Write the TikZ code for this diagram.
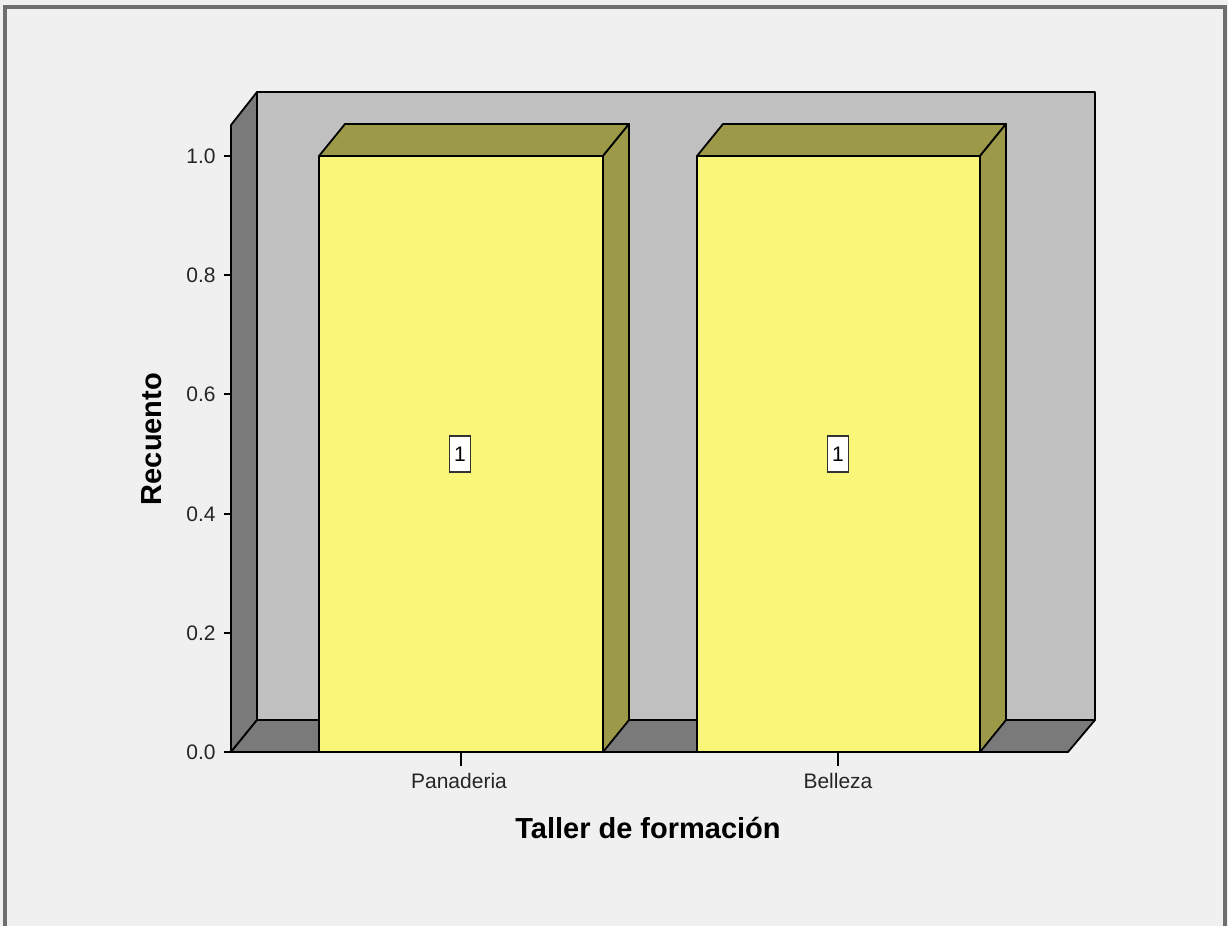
\documentclass[tikz,border=0pt]{standalone}
\usepackage{fontspec}
\setmainfont{Liberation Sans}
\usetikzlibrary{calc}

\definecolor{panelGray}{HTML}{F0F0F0}
\definecolor{wallGray}{HTML}{C0C0C0}
\definecolor{floorGray}{HTML}{7A7A7A}
\definecolor{frameGray}{HTML}{6E6E6E}
\definecolor{barFront}{HTML}{FAF67A}
\definecolor{barSide}{HTML}{9C9A48}

\tikzset{
    edge/.style={draw=black, line width=0.9pt, line join=round},
    ticklbl/.style={font=\fontsize{10.5}{12}\selectfont, inner sep=0pt, text=black!85},
    valbox/.style={fill=white, draw=black!80, line width=0.8pt, font=\fontsize{10.5}{12}\selectfont, inner xsep=2.4pt, inner ysep=0pt, minimum height=18pt},
    axtitle/.style={font=\fontsize{14.5}{16}\selectfont\bfseries, inner sep=0pt}
}

\begin{document}
\begin{tikzpicture}[x=0.5pt, y=-0.5pt]
    \useasboundingbox (0,0) rectangle (1228,926);
    \clip (0,0) rectangle (1228,926);

    \fill[panelGray] (0,0) rectangle (1228,926);
    \draw[frameGray, line width=1.7pt] (5,7) rectangle (1225,960);

    % walls and floor
    \fill[wallGray, edge] (257,92) rectangle (1095,720);
    \fill[floorGray, edge] (231,125) -- (257,92) -- (257,720) -- (231,752) -- cycle;
    \fill[floorGray, edge] (231,752) -- (257,720) -- (1095,720) -- (1068,752) -- cycle;

    % bar Panaderia
    \fill[barSide, edge] (319,156) -- (345,124) -- (629,124) -- (603,156) -- cycle;
    \fill[barSide, edge] (603,156) -- (629,124) -- (629,720) -- (603,752) -- cycle;
    \fill[barFront, edge] (319,156) rectangle (603,752);

    % bar Belleza
    \fill[barSide, edge] (697,156) -- (723,124) -- (1006,124) -- (980,156) -- cycle;
    \fill[barSide, edge] (980,156) -- (1006,124) -- (1006,720) -- (980,752) -- cycle;
    \fill[barFront, edge] (697,156) rectangle (980,752);

    \node[valbox] (v1) at (460,454) {1};
    \node[valbox] (v2) at (838,454) {1};

    % y axis
    \draw[edge] (231,125) -- (231,752);
    \draw[edge] (224,752) -- (231,752);
    \draw[edge] (224,633) -- (231,633);
    \draw[edge] (224,514) -- (231,514);
    \draw[edge] (224,394) -- (231,394);
    \draw[edge] (224,275) -- (231,275);
    \draw[edge] (224,156) -- (231,156);

    \node[ticklbl, anchor=east] (y00) at (216,752) {0.0};
    \node[ticklbl, anchor=east] (y02) at (216,633) {0.2};
    \node[ticklbl, anchor=east] (y04) at (216,514) {0.4};
    \node[ticklbl, anchor=east] (y06) at (216,394) {0.6};
    \node[ticklbl, anchor=east] (y08) at (216,275) {0.8};
    \node[ticklbl, anchor=east] (y10) at (216,156) {1.0};

    % x axis
    \draw[edge] (231,752) -- (1068,752);
    \draw[edge] (461,752) -- (461,766);
    \draw[edge] (838,752) -- (838,766);

    \node[ticklbl] (xpan) at (459,781) {Panaderia};
    \node[ticklbl] (xbel) at (838,781) {Belleza};

    \node[axtitle] (xtit) at (648,828) {Taller de formación};
    \node[axtitle, rotate=90] (ytit) at (152,439) {Recuento};
\end{tikzpicture}
\end{document}
